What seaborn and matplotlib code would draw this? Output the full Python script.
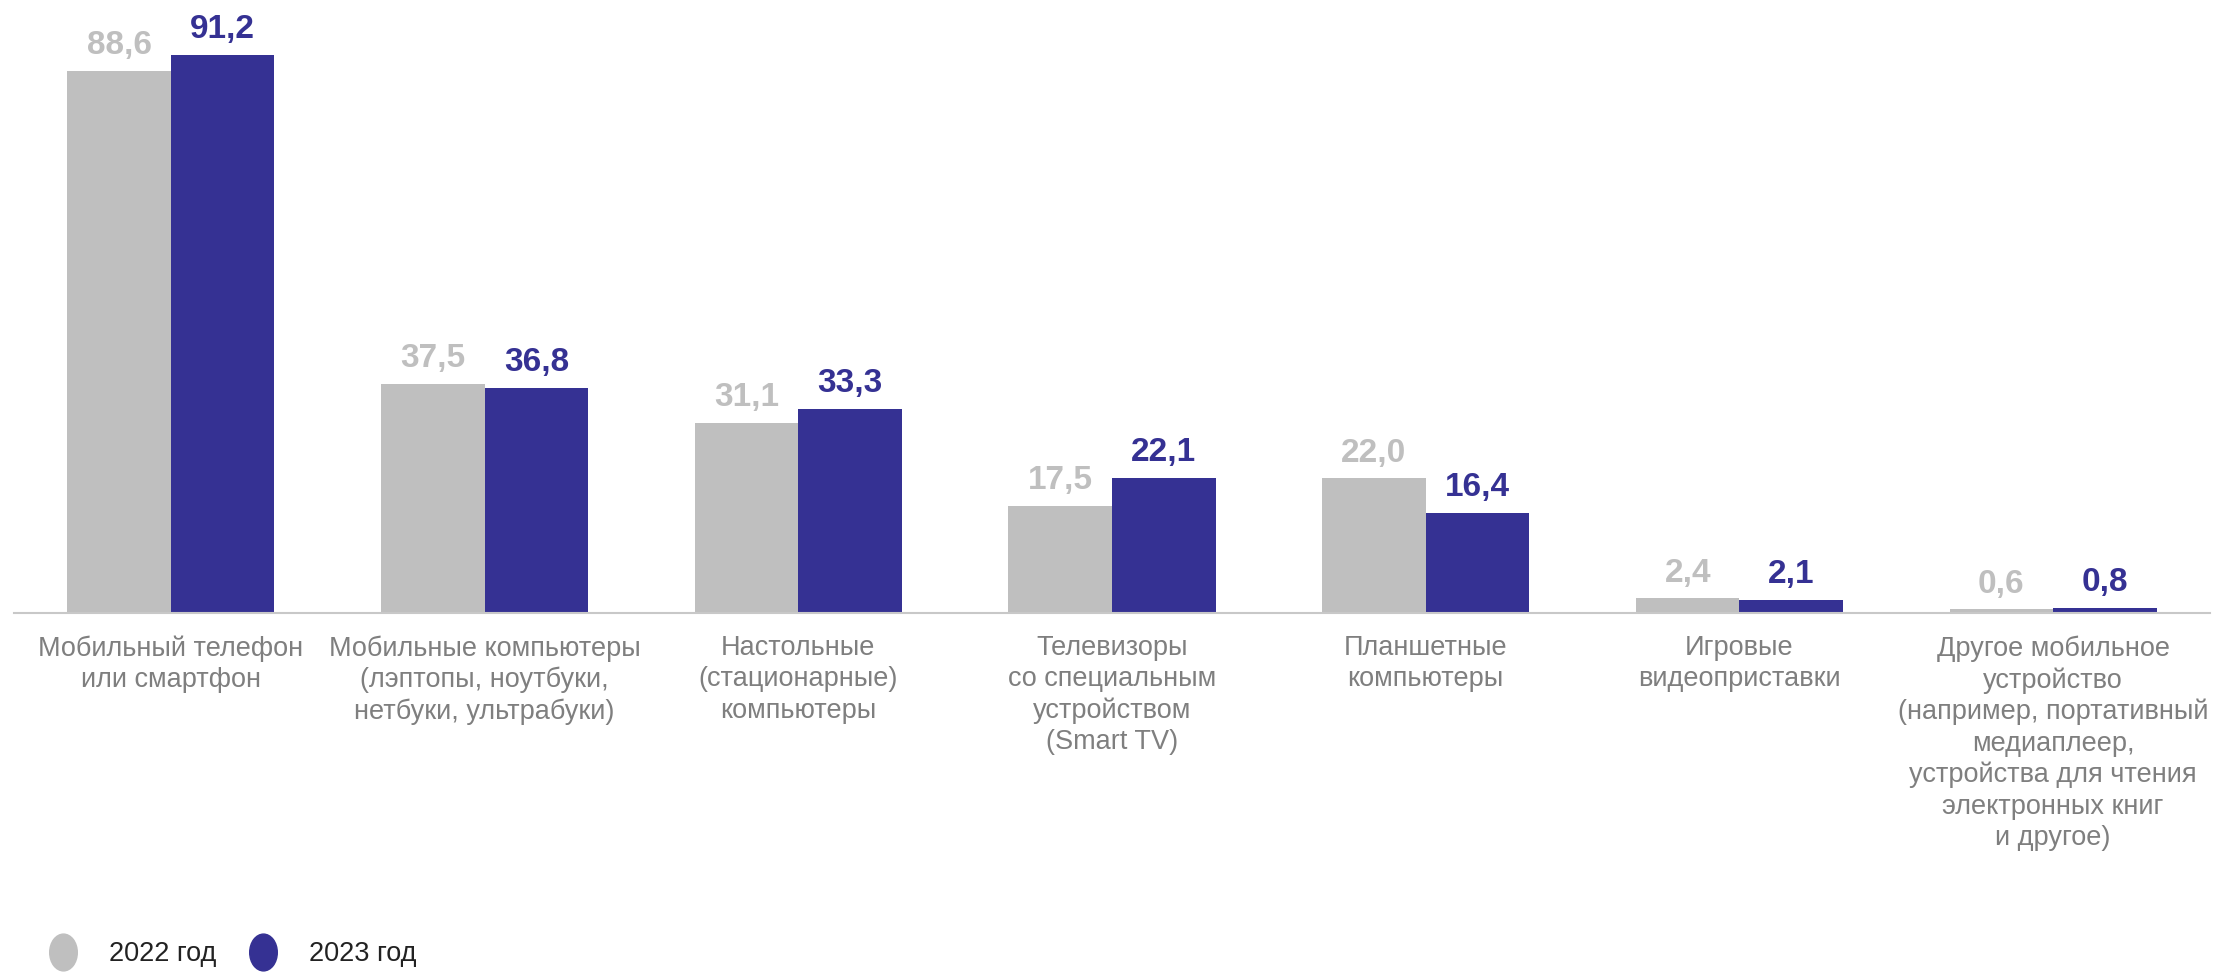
import matplotlib
matplotlib.use("Agg")
import matplotlib.pyplot as plt
from matplotlib.lines import Line2D
from matplotlib.path import Path
from matplotlib.transforms import Affine2D
from matplotlib import font_manager
import seaborn as sns
import pandas as pd

categories = [
    "Мобильный телефон\nили смартфон",
    "Мобильные компьютеры\n(лэптопы, ноутбуки,\nнетбуки, ультрабуки)",
    "Настольные\n(стационарные)\nкомпьютеры",
    "Телевизоры\nсо специальным\nустройством\n(Smart TV)",
    "Планшетные\nкомпьютеры",
    "Игровые\nвидеоприставки",
    "Другое мобильное\nустройство\n(например, портативный\nмедиаплеер,\nустройства для чтения\nэлектронных книг\nи другое)",
]
series_names = ["2022 год", "2023 год"]
values_2022 = [88.6, 37.5, 31.1, 17.5, 22.0, 2.4, 0.6]
values_2023 = [91.2, 36.8, 33.3, 22.1, 16.4, 2.1, 0.8]

GRAY = "#BFBFBF"
BLUE = "#353193"
LABEL_GRAY = "#7F7F7F"

sns.set_style("white")
names = {f.name for f in font_manager.fontManager.ttflist}
fam = ["Liberation Sans Narrow", "Liberation Sans", "DejaVu Sans"]
fam = [f for f in fam if f in names] + ["DejaVu Sans"]
plt.rcParams["font.family"] = fam

df = pd.DataFrame({
    "cat": categories * 2,
    "year": [series_names[0]] * len(categories) + [series_names[1]] * len(categories),
    "val": values_2022 + values_2023,
})

fig = plt.figure(figsize=(22.19, 9.75), dpi=100)
ax = fig.add_axes([14 / 2219, (975 - 613) / 975, 2196 / 2219, 612 / 975])
sns.barplot(data=df, x="cat", y="val", hue="year", order=categories,
            hue_order=series_names, palette=[GRAY, BLUE], width=0.66,
            ax=ax, legend=False, saturation=1, linewidth=0)

for cont, col in zip(ax.containers, [GRAY, BLUE]):
    ax.bar_label(cont, labels=[f"{v:.1f}".replace(".", ",") for v in cont.datavalues],
                 padding=7, color=col, fontsize=24, fontweight="bold")

ax.set_xlim(-0.5, 6.5)
ax.set_ylim(0, 100)
ax.set_xlabel("")
ax.set_ylabel("")
ax.set_yticks([])
for s in ["top", "right", "left"]:
    ax.spines[s].set_visible(False)
ax.spines["bottom"].set_color("#C8C8C8")
ax.spines["bottom"].set_linewidth(1.5)
ax.tick_params(axis="x", length=0, pad=16, labelsize=19.5, labelcolor=LABEL_GRAY)
for t in ax.get_xticklabels():
    t.set_linespacing(1.26)

ellipse = Path.unit_circle().transformed(Affine2D().scale(0.75, 1.0))
handles = [Line2D([], [], marker=ellipse, ls="", color=GRAY, markersize=26.5),
           Line2D([], [], marker=ellipse, ls="", color=BLUE, markersize=26.5)]
fig.legend(handles, series_names, loc="lower left", bbox_to_anchor=(20 / 2219, -0.017),
           ncol=2, frameon=False, fontsize=19.5, labelcolor="#222222",
           handletextpad=1.0, columnspacing=1.0, handlelength=1.4)

fig.savefig("out.png", dpi=100)
